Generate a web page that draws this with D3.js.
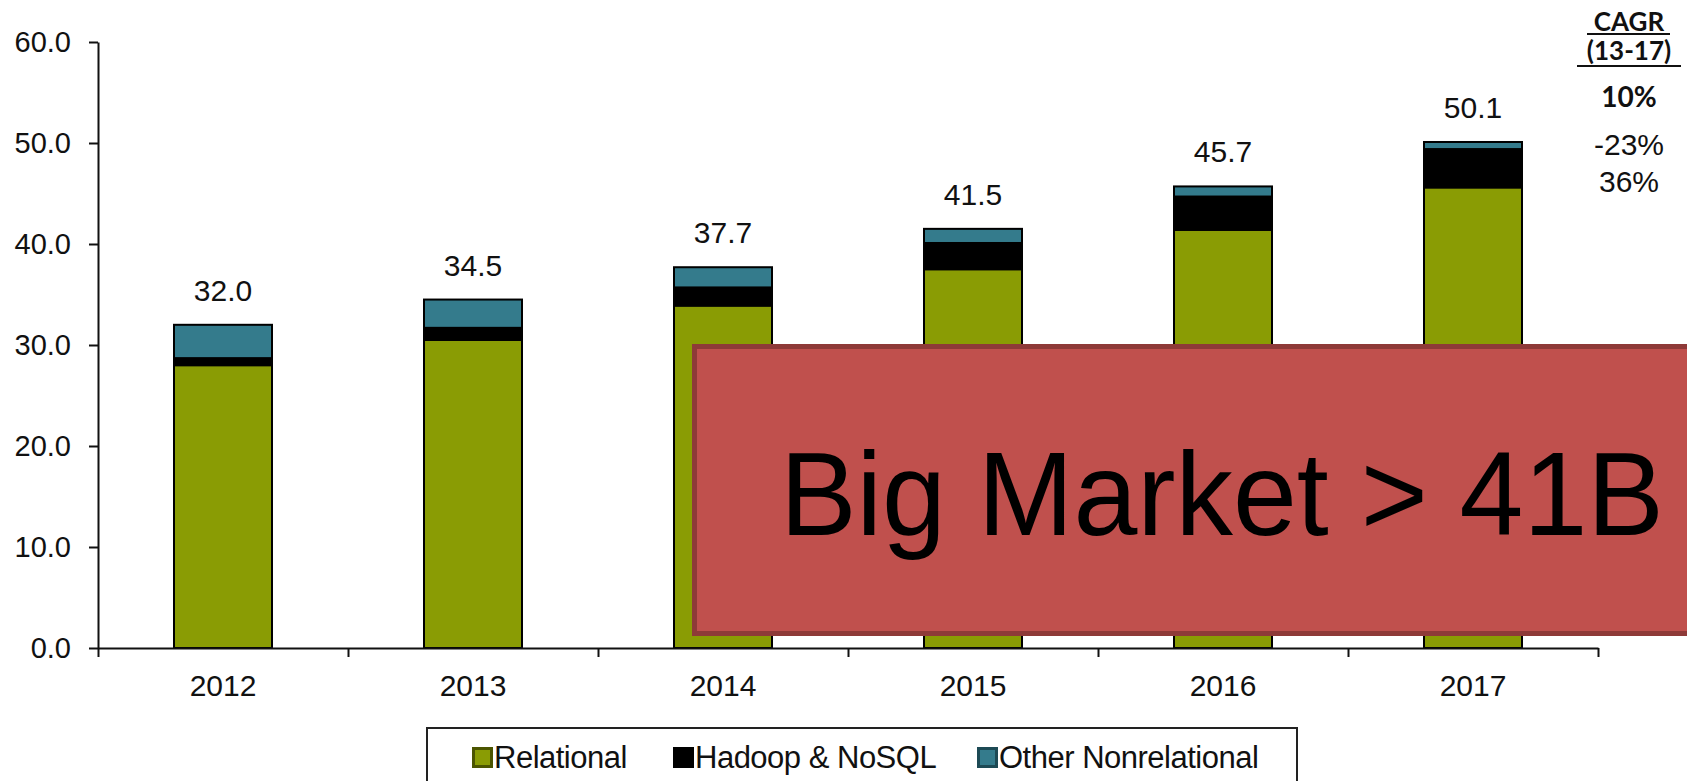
<!DOCTYPE html>
<meta charset="utf-8">
<script src="https://d3js.org/d3.v7.min.js"></script>
<head>
<style>
  body { margin: 0; background: #fff; font-family: "Liberation Sans", Arial, sans-serif; }
  .axis path, .axis line { stroke: #111; stroke-width: 2px; }
  .axis text { font-family: "Liberation Sans", Arial, sans-serif; fill: #111; }
</style>
</head>
<html><body>
<div id="viz"></div>
<script>
// data
const years = ["2012", "2013", "2014", "2015", "2016", "2017"];
const relational = [28.0, 30.5, 33.9, 37.5, 41.4, 45.6];
const hadoop = [0.7, 1.2, 1.8, 2.6, 3.3, 3.8];
const other = [3.3, 2.8, 2.0, 1.4, 1.0, 0.7];
const totals = [32.0, 34.5, 37.7, 41.5, 45.7, 50.1];
const seriesNames = ["Relational", "Hadoop & NoSQL", "Other Nonrelational"];
const yTicks = [0, 10, 20, 30, 40, 50, 60];
const cagrHead = ["CAGR", "(13-17)"];
const cagr = ["10%", "-23%", "36%"];

const W = 1687, H = 781;
const colors = ["#8a9c04", "#000000", "#347b8c"];
const legendBorders = ["#4b5500", "#000000", "#1d4a55"];

const svg = d3.select("#viz").append("svg")
  .attr("width", W).attr("height", H);

// scales
const x = d3.scaleBand().domain(years).range([98, 1598])
  .paddingInner(0.608).paddingOuter(0.304);
const y = d3.scaleLinear().domain([0, 60]).range([648, 42]);

// build rows for stacking
const rows = years.map((yr, i) => ({
  year: yr, "Relational": relational[i], "Hadoop & NoSQL": hadoop[i], "Other Nonrelational": other[i]
}));
const stacked = d3.stack().keys(seriesNames)(rows);

// bars
svg.append("g").selectAll("g")
  .data(stacked)
  .join("g")
    .attr("fill", (d, i) => colors[i])
  .selectAll("rect")
  .data(d => d)
  .join("rect")
    .attr("x", d => x(d.data.year))
    .attr("y", d => y(d[1]))
    .attr("width", x.bandwidth())
    .attr("height", d => y(d[0]) - y(d[1]))
    .attr("stroke", "#000")
    .attr("stroke-width", 2);

// y axis
svg.append("g")
  .attr("class", "axis")
  .attr("transform", "translate(98,0)")
  .call(d3.axisLeft(y).tickValues(yTicks).tickFormat(d3.format(".1f"))
    .tickSize(9).tickSizeOuter(0).tickPadding(18))
  .selectAll("text").style("font-size", "29px");

// x axis: boundary ticks
const xb = d3.scaleLinear().domain([0, years.length]).range([98, 1598]);
svg.append("g")
  .attr("class", "axis")
  .attr("transform", "translate(0,648)")
  .call(d3.axisBottom(xb).tickValues(d3.range(years.length + 1)).tickFormat("")
    .tickSize(9).tickSizeOuter(0));

// x axis: category labels
const xl = svg.append("g")
  .attr("class", "axis")
  .attr("transform", "translate(0,648)")
  .call(d3.axisBottom(x).tickSize(0).tickPadding(27));
xl.select(".domain").remove();
xl.selectAll("text").style("font-size", "30px");

// total labels
svg.append("g").selectAll("text")
  .data(years)
  .join("text")
    .attr("x", d => x(d) + x.bandwidth() / 2)
    .attr("y", (d, i) => y(totals[i]) - 24)
    .attr("text-anchor", "middle")
    .style("font-size", "30px")
    .attr("fill", "#111")
    .text((d, i) => totals[i].toFixed(1));

// CAGR column
const cagrX = 1629;
svg.append("g")
  .style("font-family", "Lato, 'Open Sans', sans-serif")
  .style("font-weight", "700")
  .style("font-size", "26px")
  .attr("text-anchor", "middle")
  .selectAll("text")
  .data(cagrHead)
  .join("text")
    .attr("x", cagrX)
    .attr("y", (d, i) => 31 + i * 29)
    .attr("fill", "#111")
    .text(d => d);
svg.append("line").attr("x1", 1587).attr("x2", 1670).attr("y1", 34).attr("y2", 34)
  .attr("stroke", "#111").attr("stroke-width", 2);
svg.append("line").attr("x1", 1577).attr("x2", 1681).attr("y1", 66).attr("y2", 66)
  .attr("stroke", "#111").attr("stroke-width", 2);

svg.append("g").selectAll("text")
  .data(cagr)
  .join("text")
    .attr("x", cagrX)
    .attr("y", (d, i) => [107, 155, 192][i])
    .attr("text-anchor", "middle")
    .style("font-family", (d, i) => i === 0 ? "Lato, 'Open Sans', sans-serif" : "'Liberation Sans', Arial, sans-serif")
    .style("font-weight", (d, i) => i === 0 ? "700" : "400")
    .style("font-size", (d, i) => i === 0 ? "28px" : "30px")
    .attr("fill", "#111")
    .text(d => d);

// legend
const legend = svg.append("g");
legend.append("rect")
  .attr("x", 427).attr("y", 728).attr("width", 870).attr("height", 70)
  .attr("fill", "#fff").attr("stroke", "#222").attr("stroke-width", 2);
const legendX = [472, 673, 977];
const items = legend.selectAll("g.item")
  .data(seriesNames)
  .join("g")
    .attr("class", "item")
    .attr("transform", (d, i) => `translate(${legendX[i]},0)`);
items.append("rect")
  .attr("x", 1.5).attr("y", 748.5).attr("width", 18).attr("height", 18)
  .attr("fill", (d, i) => colors[i])
  .attr("stroke", (d, i) => legendBorders[i])
  .attr("stroke-width", 3);
items.append("text")
  .attr("x", 22).attr("y", 768)
  .style("font-size", "31px")
  .style("letter-spacing", "-0.5px")
  .attr("fill", "#111")
  .text(d => d);

// red overlay box
svg.append("rect")
  .attr("x", 694.5).attr("y", 346.5).attr("width", 1100).attr("height", 287)
  .attr("fill", "#c0504d").attr("stroke", "#8e3a38").attr("stroke-width", 5);
svg.append("text")
  .attr("transform", "translate(780,535) scale(0.965,1)")
  .style("font-size", "119px")
  .attr("fill", "#000")
  .text("Big Market > 41B");
</script>
</body></html>
